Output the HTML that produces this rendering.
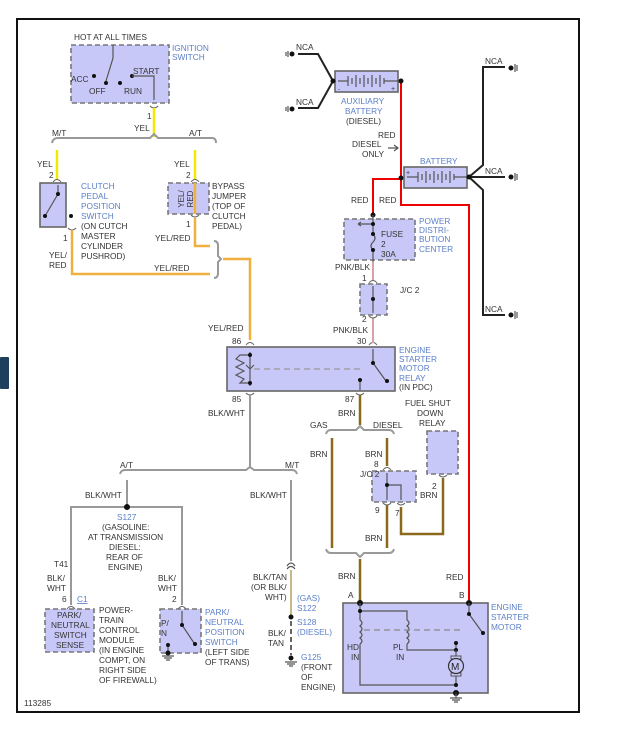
<!DOCTYPE html>
<html><head><meta charset="utf-8"><style>
body{margin:0;background:#fff;width:619px;height:731px;overflow:hidden}
svg{position:absolute;left:0;top:0}
text{font-family:"Liberation Sans",sans-serif;font-size:8.3px;fill:#333}
.b{fill:#5b7fc8}
.bx{fill:#c8c8f8;stroke:#777;stroke-width:1.6;stroke-dasharray:5,3}
.bs{fill:#c8c8f8;stroke:#666;stroke-width:1.6}
.g{stroke:#999;stroke-width:2;fill:none}
.k{stroke:#222;stroke-width:2;fill:none}
.y{stroke:#f4e800;stroke-width:2.5;fill:none}
.yr{stroke:#f0b040;stroke-width:2.5;fill:none}
.r{stroke:#e00;stroke-width:2;fill:none}
.p{stroke:#d8a0a8;stroke-width:2;fill:none}
.n{stroke:#8a6a1a;stroke-width:2.5;fill:none}
.t{stroke:#555;stroke-width:1.2;fill:none}
.c{stroke:#666;stroke-width:1;fill:none}
</style></head><body>
<svg width="619" height="731" viewBox="0 0 619 731">
<rect x="0" y="357" width="9" height="32" fill="#1f3f5f" rx="1"/>
<rect x="17" y="19" width="562" height="693" fill="none" stroke="#111" stroke-width="2"/>

<!-- ignition switch -->
<text x="74" y="40">HOT AT ALL TIMES</text>
<rect class="bx" x="71" y="45" width="98" height="58"/>
<text class="b" x="172" y="51">IGNITION</text><text class="b" x="172" y="60">SWITCH</text>
<path class="t" d="M113,45 L113,58 L106,81"/>
<circle cx="106" cy="83" r="2" fill="#111"/><circle cx="94" cy="76" r="2" fill="#111"/><circle cx="120" cy="83" r="2" fill="#111"/><circle cx="132" cy="76" r="2" fill="#111"/>
<path class="t" d="M132,76 L154,76 L154,100"/>
<text x="71" y="82" fill="#333">ACC</text><text x="89" y="94">OFF</text><text x="124" y="94">RUN</text><text x="133" y="74">START</text>
<path class="c" d="M150,106 Q154,110 158,106"/>
<path class="y" d="M154,108 V137"/>
<text x="147" y="119">1</text><text x="134" y="131">YEL</text>
<path class="g" d="M52,143 Q53,138 58,138 H150 L154,134 L158,138 H212 Q216,138 216,143"/>
<text x="52" y="136">M/T</text><text x="189" y="136">A/T</text>
<!-- clutch -->
<path class="y" d="M57,150 V180"/><text x="37" y="167">YEL</text><text x="49" y="178">2</text>
<path class="c" d="M53,182 Q57,177 61,182"/>
<rect class="bs" x="40" y="183" width="26" height="44"/>
<path class="t" d="M58,185 V194 L45,216"/><circle cx="58" cy="194" r="2" fill="#111"/><circle cx="45" cy="216" r="2" fill="#111"/><circle cx="71" cy="216" r="2" fill="#111"/>
<text class="b" x="81" y="189">CLUTCH</text><text class="b" x="81" y="199">PEDAL</text><text class="b" x="81" y="209">POSITION</text><text class="b" x="81" y="219">SWITCH</text>
<text x="81" y="229">(ON CUTCH</text><text x="81" y="239">MASTER</text><text x="81" y="249">CYLINDER</text><text x="81" y="259">PUSHROD)</text>
<path class="c" d="M68,228 Q72,232 76,228"/>
<path class="yr" d="M72,230 V274 H210"/>
<text x="63" y="241">1</text><text x="49" y="258">YEL/</text><text x="49" y="268">RED</text><text x="154" y="271">YEL/RED</text>
<!-- bypass -->
<path class="y" d="M195,150 V180"/><text x="174" y="167">YEL</text><text x="186" y="178">2</text>
<path class="c" d="M191,182 Q195,177 199,182"/>
<rect class="bx" x="168" y="183" width="41" height="31"/>
<path class="yr" d="M195,183 V214"/>
<text transform="translate(184,199) rotate(-90)" text-anchor="middle" style="font-size:8px">YEL/</text>
<text transform="translate(193,199) rotate(-90)" text-anchor="middle" style="font-size:8px">RED</text>
<text x="212" y="189">BYPASS</text><text x="212" y="199">JUMPER</text><text x="212" y="209">(TOP OF</text><text x="212" y="219">CLUTCH</text><text x="212" y="229">PEDAL)</text>
<text x="186" y="227">1</text><text x="155" y="241">YEL/RED</text>
<path class="c" d="M191,215 Q195,219 199,215"/>
<path class="yr" d="M195,218 V246 H210"/>
<path class="g" d="M214,241 Q218,241 218,246 V256 L221,259 L218,262 V273 Q218,278 214,278"/>
<path class="yr" d="M223,259 H250 V340"/>
<text x="208" y="331">YEL/RED</text>

<!-- relay -->
<path class="c" d="M246,345 Q250,340 254,345 M369,345 Q373,340 377,345 M246,393 Q250,397 254,393 M356,393 Q360,397 364,393"/>
<rect class="bs" x="227" y="347" width="168" height="44"/>
<text x="232" y="344">86</text><text x="357" y="344">30</text>
<path class="t" d="M250,352 V386 M250,355 H240 L236,359 L244,363 L236,367 L244,371 L236,375 L244,379 L240,383 H250"/>
<path d="M250,369 L246,365 M250,369 L254,365" class="t"/>
<path d="M254,369 H360" stroke="#999" stroke-width="1.2" stroke-dasharray="6,4"/>
<circle cx="250" cy="355" r="2" fill="#111"/><circle cx="250" cy="383" r="2" fill="#111"/>
<path class="t" d="M373,349 V363 L386,381"/><circle cx="373" cy="363" r="2" fill="#111"/><circle cx="387" cy="381" r="2" fill="#111"/>
<path class="t" d="M360,380 V390"/><circle cx="360" cy="380" r="2" fill="#111"/>
<text class="b" x="399" y="353">ENGINE</text><text class="b" x="399" y="362">STARTER</text><text class="b" x="399" y="371">MOTOR</text><text class="b" x="399" y="381">RELAY</text><text x="399" y="390">(IN PDC)</text>
<text x="232" y="402">85</text><text x="345" y="402">87</text>
<path class="g" d="M250,395 V467"/><text x="208" y="416">BLK/WHT</text>
<path class="g" d="M120,474 Q121,470 125,470 H246 L250,467 L254,470 H292 Q296,470 297,474"/>
<text x="120" y="468">A/T</text><text x="285" y="468">M/T</text>
<path class="g" d="M127,480 V507 M71,605 V507 H182 V605"/>
<circle cx="127" cy="507" r="3" fill="#111"/>
<path class="c" d="M67,609 Q71,604 75,609 M178,609 Q182,604 186,609"/>
<text x="85" y="498">BLK/WHT</text>
<text class="b" x="117" y="520">S127</text><text x="102" y="530">(GASOLINE:</text><text x="88" y="540">AT TRANSMISSION</text><text x="109" y="550">DIESEL:</text><text x="106" y="560">REAR OF</text><text x="108" y="570">ENGINE)</text>
<text x="54" y="567">T41</text><text x="47" y="581">BLK/</text><text x="47" y="591">WHT</text><text x="62" y="602">6</text><text class="b" x="77" y="602" style="text-decoration:underline">C1</text>
<rect class="bx" x="45" y="609" width="49" height="43"/>
<text x="57" y="618">PARK/</text><text x="51" y="628">NEUTRAL</text><text x="54" y="638">SWITCH</text><text x="56" y="648">SENSE</text>
<text x="99" y="613">POWER-</text><text x="99" y="623">TRAIN</text><text x="99" y="633">CONTROL</text><text x="99" y="643">MODULE</text><text x="99" y="653">(IN ENGINE</text><text x="99" y="663">COMPT, ON</text><text x="99" y="673">RIGHT SIDE</text><text x="99" y="683">OF FIREWALL)</text>
<text x="158" y="581">BLK/</text><text x="158" y="591">WHT</text><text x="172" y="602">2</text>
<rect class="bx" x="160" y="609" width="41" height="44"/>
<path class="t" d="M182,611 V625 L194,643"/><circle cx="182" cy="625" r="2" fill="#111"/><circle cx="195" cy="644" r="2" fill="#111"/>
<text x="161" y="626">P/</text><text x="161" y="636">N</text>
<path class="t" d="M168,645 V655"/><circle cx="168" cy="645" r="2" fill="#111"/><circle cx="168" cy="653" r="2.5" fill="#111"/>
<path class="t" d="M162,656 H174 M164,658 H172 M166,660 H170"/>
<text class="b" x="205" y="615">PARK/</text><text class="b" x="205" y="625">NEUTRAL</text><text class="b" x="205" y="635">POSITION</text><text class="b" x="205" y="645">SWITCH</text><text x="205" y="655">(LEFT SIDE</text><text x="205" y="665">OF TRANS)</text>
<!-- M/T -->
<path class="g" d="M291,480 V561"/><text x="250" y="498">BLK/WHT</text>
<path class="t" d="M287,566 Q291,560 295,566 M287,569 Q291,564 295,569"/>
<path d="M291,570 V617" stroke="#c8b888" stroke-width="2"/>
<circle cx="291" cy="617" r="2.5" fill="#111"/>
<path d="M291,621 V655" stroke="#666" stroke-width="2" stroke-dasharray="5,3"/>
<circle cx="291" cy="658" r="2.5" fill="#111"/><path class="t" d="M285,662 H297 M287,664 H295 M289,666 H293"/>
<text x="253" y="580">BLK/TAN</text><text x="251" y="590">(OR BLK/</text><text x="265" y="600">WHT)</text>
<text class="b" x="297" y="601">(GAS)</text><text class="b" x="297" y="611">S122</text><text class="b" x="297" y="625">S128</text><text class="b" x="297" y="635">(DIESEL)</text>
<text x="268" y="636">BLK/</text><text x="268" y="646">TAN</text>
<text class="b" x="301" y="660">G125</text><text x="301" y="670">(FRONT</text><text x="301" y="680">OF</text><text x="301" y="690">ENGINE)</text>
<text x="24" y="706">113285</text>

<!-- aux battery & grounds -->
<rect class="bs" x="335" y="71" width="63" height="21"/>
<path class="t" d="M338,81 H348 M348,76 V86 M352,78 V84 M356,75 V87 M360,78 V84 M364,75 V87 M368,78 V84 M372,75 V87 M376,78 V84 M380,75 V87 M384,78 V84 M384,81 H398"/>
<text x="338" y="91" style="font-size:6px">-</text><text x="391" y="91" style="font-size:7px">+</text>
<path class="k" d="M298,54 H318 L333,81 L318,108 H298"/>
<circle cx="333" cy="81" r="2.5" fill="#111"/>
<circle cx="292" cy="54" r="2.5" fill="#111"/><circle cx="292" cy="109" r="2.5" fill="#111"/>
<path class="t" d="M288,51 V57 M286,52 V56 M288,106 V112 M286,107 V111"/>
<text x="296" y="50">NCA</text><text x="296" y="105">NCA</text>
<text class="b" x="341" y="104">AUXILIARY</text><text class="b" x="345" y="114">BATTERY</text><text x="346" y="124">(DIESEL)</text>
<path class="r" d="M401,81 V205 H469 V600 M401,179 H373 V215"/>
<circle cx="401" cy="81" r="2.5" fill="#111"/><circle cx="401" cy="178" r="2.5" fill="#111"/>
<text x="378" y="138">RED</text><text x="352" y="147">DIESEL</text><text x="362" y="157">ONLY</text>
<path d="M388,148 H397 M394,145 L398,148 L394,151" class="t"/>
<rect class="bs" x="404" y="167" width="63" height="21"/>
<path class="t" d="M407,177 H418 M418,172 V182 M422,174 V180 M426,171 V183 M430,174 V180 M434,171 V183 M438,174 V180 M442,171 V183 M446,174 V180 M450,171 V183 M454,174 V180 M454,177 H467"/>
<text x="406" y="175" style="font-size:7px">+</text>
<text class="b" x="420" y="164">BATTERY</text>
<path class="k" d="M469,177 L483,165 V67 H505 M469,177 H505 M469,177 L483,190 V315 H505"/>
<circle cx="469" cy="177" r="2.5" fill="#111"/>
<circle cx="511" cy="68" r="2.5" fill="#111"/><circle cx="511" cy="177" r="2.5" fill="#111"/><circle cx="511" cy="315" r="2.5" fill="#111"/>
<path class="t" d="M515,64 V72 M517,65 V71 M515,173 V181 M517,174 V180 M515,311 V319 M517,312 V318"/>
<text x="485" y="64">NCA</text><text x="485" y="174">NCA</text><text x="485" y="312">NCA</text>
<!-- PDC -->
<text x="351" y="203">RED</text><text x="379" y="203">RED</text>
<circle cx="373" cy="215" r="2.5" fill="#111"/>
<rect class="bx" x="344" y="219" width="71" height="41"/>
<path class="t" d="M373,215 V224 L358,224 M358,224 L361,222 M358,224 L361,226 M373,224 V234 Q377,238 373,242 Q369,246 373,250 V262"/>
<circle cx="373" cy="224" r="2" fill="#111"/><circle cx="373" cy="234" r="2" fill="#111"/><circle cx="373" cy="250" r="2" fill="#111"/>
<text x="381" y="237">FUSE</text><text x="381" y="247">2</text><text x="381" y="257">30A</text>
<text class="b" x="419" y="224">POWER</text><text class="b" x="419" y="233">DISTRI-</text><text class="b" x="419" y="242">BUTION</text><text class="b" x="419" y="252">CENTER</text>
<path class="p" d="M373,262 V280 M373,318 V343"/>
<text x="335" y="270">PNK/BLK</text><text x="362" y="281">1</text>
<path class="c" d="M369,283 Q373,278 377,283 M369,316 Q373,320 377,316"/>
<rect class="bx" x="360" y="284" width="27" height="31"/>
<path class="t" d="M373,286 V313"/><circle cx="373" cy="299" r="2" fill="#111"/>
<text x="400" y="293">J/C 2</text><text x="362" y="322">2</text><text x="333" y="333">PNK/BLK</text>

<!-- brown -->
<path class="n" d="M360,395 V425"/><text x="338" y="416">BRN</text>
<path class="g" d="M326,434 Q327,430 331,430 H356 L360,426 L364,430 H389 Q393,430 394,434"/>
<text x="310" y="428">GAS</text><text x="373" y="428">DIESEL</text>
<path class="n" d="M332,438 V548 M387,438 V466 M387,505 V548"/>
<text x="310" y="457">BRN</text><text x="365" y="457">BRN</text><text x="374" y="467">8</text>
<path class="c" d="M383,470 Q387,465 391,470 M383,503 Q387,507 391,503 M397,503 Q401,507 405,503 M439,475 Q443,479 447,475"/>
<rect class="bx" x="372" y="471" width="44" height="31"/>
<path class="t" d="M387,473 V500 M387,485 H401 V500"/><circle cx="387" cy="485" r="2" fill="#111"/>
<text x="360" y="477">J/C 2</text><text x="375" y="513">9</text><text x="395" y="516">7</text>
<rect class="bx" x="427" y="431" width="31" height="43"/>
<text x="405" y="406">FUEL SHUT</text><text x="417" y="416">DOWN</text><text x="419" y="426">RELAY</text>
<text x="432" y="489">2</text><text x="420" y="498">BRN</text>
<path class="n" d="M401,507 V534 H443 V478"/>
<text x="365" y="541">BRN</text>
<path class="g" d="M326,549 Q327,553 331,553 H356 L360,557 L364,553 H389 Q393,553 394,549"/>
<path class="n" d="M360,559 V603"/><text x="338" y="579">BRN</text>
<text x="446" y="580">RED</text><text x="348" y="598">A</text><text x="459" y="598">B</text>
<!-- starter -->
<rect class="bs" x="343" y="603" width="145" height="90"/>
<circle cx="360" cy="603" r="3" fill="#111"/><circle cx="469" cy="603" r="3" fill="#111"/>
<path class="t" d="M360,603 V611 H407 V620 M407,644 V650 H456 V643 M360,611 V620 M360,644 V685 H456 V680"/>
<path class="t" d="M360,620 q4,3 0,6 q4,3 0,6 q4,3 0,6 q4,3 0,6 M407,620 q4,3 0,6 q4,3 0,6 q4,3 0,6 q4,3 0,6"/>
<circle cx="360" cy="611" r="2" fill="#111"/><circle cx="456" cy="643" r="2" fill="#111"/><circle cx="456" cy="650" r="2" fill="#111"/>
<path d="M364,630 H462" stroke="#888" stroke-width="1.2" stroke-dasharray="6,4"/>
<path class="t" d="M469,603 V614 L482,632"/><circle cx="469" cy="614" r="2" fill="#111"/><circle cx="483" cy="633" r="2" fill="#111"/>
<path class="t" d="M456,650 V656 M456,676 V681"/>
<rect x="451" y="656" width="10" height="3" fill="#c8c8f8" stroke="#555"/><rect x="451" y="673" width="10" height="3" fill="#c8c8f8" stroke="#555"/>
<circle cx="456" cy="666" r="7.5" fill="#c8c8f8" stroke="#333" stroke-width="1.2"/>
<text x="451" y="670" style="font-size:10px;fill:#222">M</text>
<circle cx="456" cy="685" r="2" fill="#111"/><circle cx="456" cy="693" r="3" fill="#111"/>
<path class="t" d="M456,693 V698 M450,698 H462 M452,700 H460 M454,702 H458"/>
<text x="347" y="650">HD</text><text x="351" y="660">IN</text><text x="393" y="650">PL</text><text x="396" y="660">IN</text>
<text class="b" x="491" y="610">ENGINE</text><text class="b" x="491" y="620">STARTER</text><text class="b" x="491" y="630">MOTOR</text>
</svg>
</body></html>
